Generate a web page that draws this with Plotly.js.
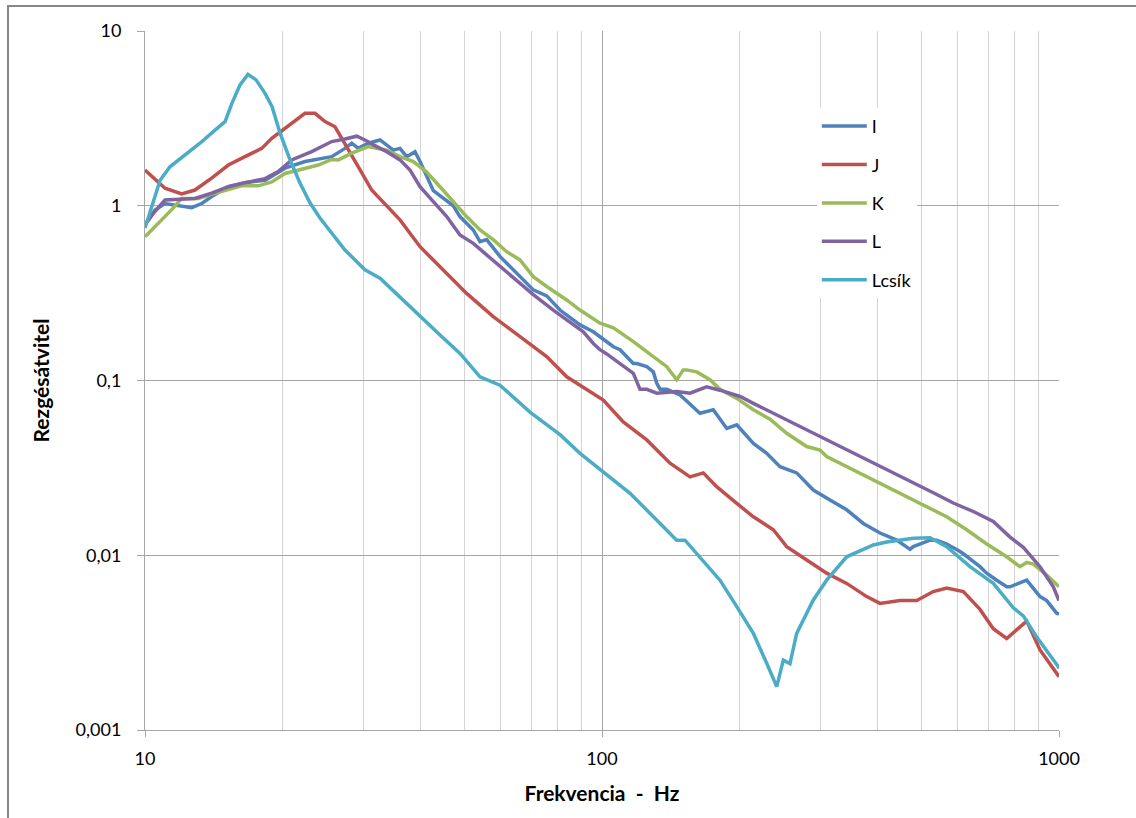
<!DOCTYPE html>
<html>
<head>
<meta charset="utf-8">
<script src="https://cdn.plot.ly/plotly-3.0.1.min.js"></script>
<style>
html,body{margin:0;padding:0;background:#fff;overflow:hidden;}
#chart{position:absolute;left:0;top:0;width:1136px;height:818px;}
#frame{position:absolute;left:7px;top:5px;width:1200px;height:900px;border:2px solid #878787;pointer-events:none;}
</style>
</head>
<body>
<div id="chart"></div>
<div id="frame"></div>
<script>
// Series I
const fI = [10,10.52,11.06,11.83,12.65,13.31,13.99,15.22,16.55,18.31,20.25,22.39,25.62,27.39,28.34,29.3,30.8,32.68,34.94,36.14,37.38,38.98,39.98,42.75,44.95,47.27,48.89,52.28,54.08,55.93,59.8,63.94,70.74,75.68,80.93,89.52,95.72,99,105.9,109.5,117.1,119.1,125.3,129.5,131.8,134,138.6,148.2,161.2,163.8,175.2,187.5,197.2,214.4,229.3,245.2,266.7,290,315.4,343.1,373.1,405.8,441.4,472.1,480,522.1,540,567.9,607.3,617.5,671.6,694.7,730.6,768.4,781.3,849.8,908.8,940,988.3,1000];
const vI = [0.78,0.946,1.03,1.0,0.975,1.03,1.13,1.285,1.355,1.40,1.64,1.79,1.91,2.13,2.28,2.13,2.28,2.38,2.08,2.13,1.91,2.04,1.79,1.22,1.10,1.0,0.867,0.727,0.623,0.64,0.513,0.429,0.33,0.305,0.253,0.208,0.19,0.178,0.156,0.150,0.125,0.125,0.12,0.112,0.0963,0.089,0.089,0.0827,0.0678,0.0649,0.068,0.0532,0.0557,0.0437,0.0383,0.0321,0.0296,0.0236,0.0207,0.0182,0.0152,0.0134,0.0122,0.0108,0.0112,0.0122,0.0122,0.0116,0.0105,0.0102,0.0086,0.0079,0.0072,0.0066,0.0066,0.0072,0.0058,0.0055,0.00466,0.0046];

// Series J
const fJ = [10,11.06,12.03,12.86,13.99,15.22,16.55,18.01,18.94,20.25,22.39,23.55,24.77,26.05,27.39,29.3,31.33,32.68,33.51,36.14,39.98,45.73,50.56,57.81,66.14,75.68,83.71,89.52,100.65,111.3,125.3,140.9,155.8,166.6,178.2,197.2,214.4,237.1,253.6,280.5,310.2,343.1,379.5,405.8,448.8,488.3,530.9,567.9,617.5,671.6,718.1,768.4,821.6,849.8,908.8,1000];
const vJ = [1.60,1.26,1.17,1.23,1.44,1.71,1.91,2.13,2.43,2.77,3.38,3.38,3.03,2.83,2.28,1.67,1.23,1.10,1.03,0.83,0.583,0.41,0.315,0.232,0.178,0.137,0.105,0.094,0.0773,0.058,0.0457,0.0336,0.0281,0.0296,0.0247,0.0198,0.0166,0.0140,0.0112,0.0094,0.0079,0.0069,0.0058,0.0053,0.0055,0.0055,0.0062,0.0065,0.0062,0.0049,0.0038,0.00334,0.0039,0.0042,0.00287,0.00202];

// Series K
const fK = [10,10.69,11.44,12.03,13.08,14.23,15.48,16.27,17.7,18.94,20.25,22.39,23.94,25.62,26.49,28.34,30.8,33.8,36.14,38.65,41.35,44.21,47.27,50.56,54.08,57.81,61.85,66.14,70.74,75.68,83.71,89.52,99,105.9,117.1,129.5,138.6,145.7,150.6,153.2,161.2,172.3,181.2,197.2,214.4,233.2,253.6,280.5,299.9,310.2,343.1,379.5,419.8,464.2,513.5,567.9,628.2,694.7,768.4,807.9,821.6,849.8,878.7,940,1000];
const vK = [0.665,0.79,0.95,1.10,1.10,1.18,1.26,1.30,1.30,1.37,1.53,1.64,1.71,1.84,1.83,2.0,2.18,2.08,1.91,1.79,1.56,1.285,1.055,0.867,0.727,0.64,0.546,0.49,0.393,0.345,0.289,0.253,0.213,0.20,0.167,0.137,0.12,0.101,0.115,0.115,0.112,0.101,0.089,0.079,0.068,0.06,0.0499,0.0419,0.040,0.0367,0.0321,0.0281,0.0247,0.0216,0.019,0.0166,0.014,0.0116,0.0098,0.0089,0.0086,0.0091,0.0089,0.0077,0.0066];

// Series L
const fL = [10,10.52,11.06,11.83,12.86,13.99,15.22,16.55,18.31,19.57,20.94,23.16,25.62,27.39,29.06,30.29,31.6,33.8,36.14,38.01,39.98,42.75,45.73,48.89,52.28,55.93,59.8,65.04,70.74,78.24,83.71,91.02,95.72,99,102.4,109.5,117.1,121.1,125.3,131.8,145.7,155.8,169.4,181.2,200.5,214.4,237.1,262.2,290,320.7,354.7,392.4,433.9,480,530.9,587.1,649.4,718.1,781.3,835.4,856.7,908.8,971.7,1000];
const vL = [0.78,0.93,1.08,1.09,1.10,1.18,1.285,1.355,1.43,1.57,1.83,2.04,2.33,2.41,2.5,2.38,2.23,2.04,1.83,1.60,1.285,1.055,0.867,0.68,0.609,0.523,0.45,0.375,0.31,0.253,0.222,0.19,0.163,0.150,0.142,0.125,0.11,0.089,0.089,0.0846,0.0865,0.0846,0.092,0.088,0.081,0.074,0.065,0.057,0.05,0.0437,0.0383,0.0336,0.0296,0.026,0.0228,0.0199,0.0178,0.0156,0.0127,0.0111,0.0103,0.0086,0.0066,0.0055];

// Series Lcsík
const fC = [10,10.79,11.34,12.23,13.19,14.23,14.97,15.5,16.14,16.8,17.5,18.31,18.97,19.74,20.77,21.83,22.96,24.15,27.39,30.29,32.68,36.14,39.98,44.21,48.89,54.08,59.8,69.56,80.93,89.52,115.2,145.7,151.9,163.8,181.2,197.2,214.4,229.3,241.2,249.3,257.8,266.7,290,310.2,343.1,392.4,419.8,480,522.1,567.9,638.7,718.1,794.3,835.4,893.8,996.5,1000];
const vC = [0.746,1.40,1.67,1.95,2.28,2.71,3.03,3.87,4.91,5.65,5.25,4.40,3.69,2.61,1.83,1.35,1.04,0.85,0.558,0.43,0.385,0.30,0.232,0.182,0.143,0.105,0.094,0.066,0.049,0.0383,0.0226,0.0122,0.0122,0.0098,0.0072,0.00508,0.00357,0.00241,0.00177,0.00251,0.0024,0.00357,0.00555,0.0072,0.0098,0.01145,0.0119,0.0125,0.0126,0.0112,0.0086,0.0069,0.005,0.0045,0.0034,0.0023,0.00225];

const seriesNames = ['I','J','K','L','Lcsík'];
const seriesColors = ['#4F81BD','#C0504D','#9BBB59','#8064A2','#4BACC6'];
const seriesF = [fI,fJ,fK,fL,fC];
const seriesV = [vI,vJ,vK,vL,vC];

const yTickVals = [0.001,0.01,0.1,1,10];
const yTickText = ['0,001','0,01','0,1','1','10'];
const xTickVals = [10,100,1000];
const xTickText = ['10','100','1000'];

const traces = seriesNames.map((n,i)=>({
  x: seriesF[i], y: seriesV[i], name: n, type:'scatter', mode:'lines',
  legendgroup: 'g'+i,
  line:{color: seriesColors[i], width:3.5}
}));

const FONT = 'Lato, "Open Sans", sans-serif';
const layout = {
  width:1136, height:818,
  margin:{l:145,r:77,t:31,b:88},
  paper_bgcolor:'#fff', plot_bgcolor:'#fff',
  font:{family:FONT, size:18, color:'#000'},
  showlegend:true,
  legend:{x:0.735, y:0.89, xanchor:'left', yanchor:'top', bgcolor:'#fff',
          itemwidth:45,
          traceorder:'grouped', tracegroupgap:12, font:{family:FONT,size:18,color:'#000'}},
  xaxis:{type:'log', range:[1,3], tickvals:xTickVals, ticktext:xTickText,
         showgrid:true, gridcolor:'#a6a6a6', gridwidth:1,
         minor:{dtick:'D1', showgrid:true, gridcolor:'#d4d4d4', ticks:''},
         showline:true, linecolor:'#a6a6a6', linewidth:1,
         ticks:'outside', ticklen:6, tickcolor:'#a6a6a6', ticklabelstandoff:6,
         tickfont:{family:FONT,size:18},
         zeroline:false,
         title:{text:'Frekvencia\u00a0 -\u00a0 Hz', font:{family:FONT,size:21,weight:'bold'}, standoff:18}},
  yaxis:{type:'log', range:[-3,1], tickvals:yTickVals, ticktext:yTickText,
         showgrid:true, gridcolor:'#a6a6a6', gridwidth:1,
         showline:true, linecolor:'#a6a6a6', linewidth:1,
         ticks:'outside', ticklen:7, tickcolor:'#a6a6a6', ticklabelstandoff:12,
         tickfont:{family:FONT,size:18},
         zeroline:false,
         title:{text:'Rezgésátvitel', font:{family:FONT,size:21,weight:'bold'}, standoff:20}}
};

Plotly.newPlot('chart', traces, layout, {displayModeBar:false, staticPlot:true});
</script>
</body>
</html>
